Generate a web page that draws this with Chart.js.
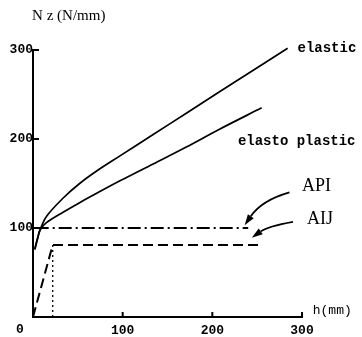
<!DOCTYPE html>
<html><head><meta charset="utf-8">
<script src="https://cdn.jsdelivr.net/npm/chart.js@4/dist/chart.umd.min.js"></script>
<style>html,body{margin:0;padding:0;background:#fff}#wrap{width:362px;height:337px;position:relative}</style>
</head><body><div id="wrap"><canvas id="c" width="362" height="337"></canvas></div>
<script>
// ---- data (h in mm, Nz in N/mm) ----
const xTicks = [0, 100, 200, 300];
const yTicks = [100, 200, 300];
const elasticH = [2, 5, 8, 15, 34, 52, 71, 97, 134, 171, 208, 250, 284];
const elasticN = [76, 88, 98, 113, 134, 150, 164, 181, 205, 229, 253, 280, 302];
const plasticH = [2, 5, 8, 15, 34, 52, 71, 97, 134, 171, 208, 255];
const plasticN = [76, 88, 98, 106, 118, 128.5, 139, 153, 172, 191, 211, 235];
const apiH = [3, 240];
const apiN = [100, 100];
const aijH = [0, 22, 251];
const aijN = [0, 81, 81];
const aijDropH = [22, 22];
const aijDropN = [81, 0];
const labels = [
  {text: 'elastic', h: 295, n: 302, font: 'bold 14px "Liberation Mono", monospace'},
  {text: 'elasto plastic', h: 228.5, n: 197, font: 'bold 14px "Liberation Mono", monospace'},
  {text: 'API', h: 300, n: 147, font: '18px "Liberation Serif", serif'},
  {text: 'AIJ', h: 305.5, n: 110, font: '18px "Liberation Serif", serif'},
  {text: 'h(mm)', h: 312, n: 7, font: '13px "Liberation Mono", monospace'},
  {text: 'N z (N/mm)', h: -1, n: 338, font: '15px "Liberation Serif", serif'},
  {text: '0', h: -14.5, n: -14.5, font: 'bold 13px "Liberation Mono", monospace', align: 'center'}
];
const arrows = [
  {from: [286, 140], ctrl: [255, 131], to: [236, 103]},
  {from: [290, 107], ctrl: [262, 102], to: [244, 89]}
];

const pts = (xs, ys) => xs.map((x, i) => ({x, y: ys[i]}));

const overlay = {
  id: 'overlay',
  afterDraw(chart) {
    const ctx = chart.ctx, xs = chart.scales.x, ys = chart.scales.y;
    ctx.save();
    ctx.strokeStyle = '#000'; ctx.fillStyle = '#000'; ctx.lineWidth = 2;
    // inward tick marks
    const x0 = xs.getPixelForValue(0), y0 = ys.getPixelForValue(0);
    yTicks.forEach(v => { const y = ys.getPixelForValue(v); ctx.beginPath(); ctx.moveTo(x0, y); ctx.lineTo(x0 + 6, y); ctx.stroke(); });
    xTicks.slice(1).forEach(v => { const x = xs.getPixelForValue(v); ctx.beginPath(); ctx.moveTo(x, y0); ctx.lineTo(x, y0 - 5); ctx.stroke(); });
    // arrows
    arrows.forEach(a => {
      const fx = xs.getPixelForValue(a.from[0]), fy = ys.getPixelForValue(a.from[1]);
      const cx = xs.getPixelForValue(a.ctrl[0]), cy = ys.getPixelForValue(a.ctrl[1]);
      const tx = xs.getPixelForValue(a.to[0]), ty = ys.getPixelForValue(a.to[1]);
      const ang = Math.atan2(ty - cy, tx - cx);
      const L = 11, W = 3.5;
      const bx = tx - L * Math.cos(ang), by = ty - L * Math.sin(ang);
      ctx.lineWidth = 1.8;
      ctx.beginPath(); ctx.moveTo(fx, fy); ctx.quadraticCurveTo(cx, cy, bx, by); ctx.stroke();
      ctx.beginPath();
      ctx.moveTo(tx, ty);
      ctx.lineTo(bx + W * Math.sin(ang), by - W * Math.cos(ang));
      ctx.lineTo(bx - W * Math.sin(ang), by + W * Math.cos(ang));
      ctx.closePath(); ctx.fill();
    });
    // text labels
    ctx.textBaseline = 'middle';
    labels.forEach(l => { ctx.textAlign = l.align || 'left'; ctx.font = l.font; ctx.fillText(l.text, xs.getPixelForValue(l.h), ys.getPixelForValue(l.n)); });
    ctx.restore();
  }
};

const lineDs = (data, extra) => Object.assign({data, borderColor: '#000', backgroundColor: '#000', pointRadius: 0, fill: false, clip: false}, extra);

new Chart(document.getElementById('c'), {
  type: 'line',
  data: {
    datasets: [
      lineDs(pts(elasticH, elasticN), {label: 'elastic', borderWidth: 1.7, tension: 0.35}),
      lineDs(pts(plasticH, plasticN), {label: 'elasto plastic', borderWidth: 1.7, tension: 0.35}),
      lineDs(pts(apiH, apiN), {label: 'API', borderWidth: 1.8, borderDash: [13, 4, 2, 4]}),
      lineDs(pts(aijH, aijN), {label: 'AIJ', borderWidth: 2, borderDash: [10, 5]}),
      lineDs(pts(aijDropH, aijDropN), {label: 'AIJ h', borderWidth: 1.3, borderDash: [2, 3]})
    ]
  },
  options: {
    responsive: false, animation: false, devicePixelRatio: 1,
    layout: {padding: {left: 0, top: 50, right: 60, bottom: 0}},
    plugins: {legend: {display: false}, tooltip: {enabled: false}},
    scales: {
      x: {
        type: 'linear', min: 0, max: 300,
        afterFit: s => { s.height = 20; },
        afterBuildTicks: s => { s.ticks = xTicks.map(v => ({value: v})); },
        grid: {display: true, drawOnChartArea: false, drawTicks: false},
        border: {display: true, color: '#000', width: 2},
        ticks: {color: '#000', padding: 6, maxRotation: 0, autoSkip: false, callback: v => (v === 0 ? '' : v), font: {family: '"Liberation Mono", monospace', size: 13, weight: 'bold'}}
      },
      y: {
        type: 'linear', min: 0, max: 300,
        afterFit: s => { s.width = 33; },
        afterBuildTicks: s => { s.ticks = yTicks.map(v => ({value: v})); },
        grid: {display: true, drawOnChartArea: false, drawTicks: false},
        border: {display: true, color: '#000', width: 2},
        ticks: {color: '#000', padding: 0, font: {family: '"Liberation Mono", monospace', size: 13, weight: 'bold'}}
      }
    }
  },
  plugins: [overlay]
});
</script></body></html>
